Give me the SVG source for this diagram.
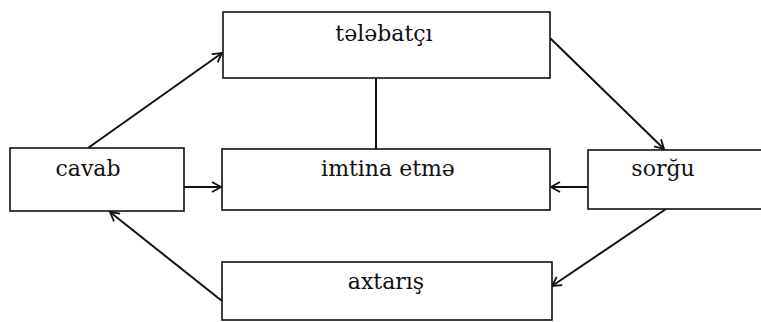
<svg xmlns="http://www.w3.org/2000/svg" width="761" height="322" viewBox="0 0 761 322">
<style>
.box{fill:#fff;stroke:#111;stroke-width:1.6}
text{font-family:'DejaVu Serif',serif;font-size:22px;fill:#111;text-anchor:middle}
.con{stroke:#111;stroke-width:2;fill:none}
</style>
<defs>
<marker id="ah" viewBox="0 0 12 12" refX="11" refY="6" markerWidth="12" markerHeight="12" markerUnits="userSpaceOnUse" orient="auto">
<path d="M2,1 L11,6 L2,11" fill="none" stroke="#111" stroke-width="1.8"/>
</marker>
</defs>
<rect width="761" height="322" fill="#fff"/>
<g id="connectors">
<line class="con" x1="88" y1="148" x2="222" y2="53" marker-end="url(#ah)"/>
<line class="con" x1="376" y1="78" x2="376" y2="149"/>
<line class="con" x1="550" y1="38" x2="664" y2="149" marker-end="url(#ah)"/>
<line class="con" x1="184" y1="187" x2="221" y2="187" marker-end="url(#ah)"/>
<line class="con" x1="588" y1="187" x2="551" y2="187" marker-end="url(#ah)"/>
<line class="con" x1="666" y1="209" x2="552" y2="286" marker-end="url(#ah)"/>
<line class="con" x1="222" y1="301" x2="110" y2="212" marker-end="url(#ah)"/>
</g>
<g id="telebatci"><rect class="box" x="223" y="12" width="327" height="66"/><text x="384" y="41">tələbatçı</text></g>
<g id="cavab"><rect class="box" x="10" y="148" width="174" height="63"/><text x="88" y="176">cavab</text></g>
<g id="imtina"><rect class="box" x="222" y="149" width="328" height="61"/><text x="388" y="176">imtina etmə</text></g>
<g id="sorgu"><rect class="box" x="588" y="150" width="180" height="59"/><text x="663" y="176">sorğu</text></g>
<g id="axtaris"><rect class="box" x="222" y="262" width="330" height="58"/><text x="386" y="289">axtarış</text></g>
</svg>
